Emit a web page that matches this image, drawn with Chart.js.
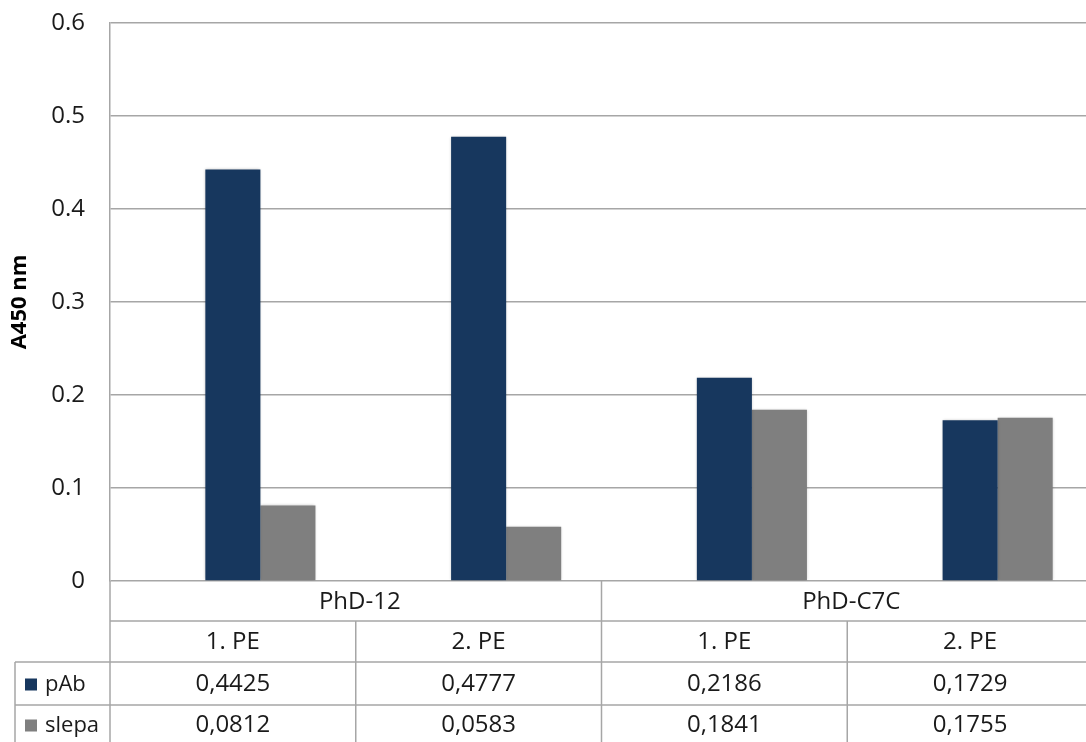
<!DOCTYPE html>
<html>
<head>
<meta charset="utf-8">
<script src="https://cdn.jsdelivr.net/npm/chart.js@4.4.1/dist/chart.umd.min.js"></script>
<style>
  html, body { margin: 0; padding: 0; background: #ffffff; overflow: hidden; }
  #wrap { width: 1100px; height: 742px; }
</style>
</head>
<body>
<div id="wrap"><canvas id="c" width="1100" height="742"></canvas></div>
<script>
// Categories and groups shown in the data table under the plot
const categories = ['1. PE', '2. PE', '1. PE', '2. PE'];
const groupLabels = ['PhD-12', 'PhD-C7C'];
const groupSpans = [2, 2];

// Absorbance at 450 nm
const pAb   = [0.4425, 0.4777, 0.2186, 0.1729];
const slepa = [0.0812, 0.0583, 0.1841, 0.1755];
// empty leading series (keeps the bar pair off-centre, as in the workbook)
const spacer = [null, null, null, null];

const yTicks = [0, 0.1, 0.2, 0.3, 0.4, 0.5, 0.6];

const NAVY = '#17375e';
const GREY = '#7f7f7f';
const LINE = '#a6a6a6';
const TEXT = '#1a1a1a';
const FONT = '"Open Sans", "DejaVu Sans", sans-serif';

const fmt = v => v.toFixed(4).replace('.', ',');

const series = [
  { label: 'pAb', values: pAb, color: NAVY },
  { label: 'slepa', values: slepa, color: GREY }
];

// soft shadow beneath the bars
const barShadow = {
  id: 'barShadow',
  beforeDatasetsDraw(chart) {
    const ctx = chart.ctx;
    ctx.save();
    ctx.shadowColor = 'rgba(0,0,0,0.28)';
    ctx.shadowBlur = 3;
    ctx.shadowOffsetX = 0;
    ctx.shadowOffsetY = 0;
  },
  afterDatasetsDraw(chart) {
    chart.ctx.restore();
  }
};

// data table drawn below the plot area
const dataTable = {
  id: 'dataTable',
  afterDraw(chart) {
    const ctx = chart.ctx;
    const a = chart.chartArea;
    const xs = chart.scales.x;
    const n = categories.length;
    const catW = (a.right - a.left) / n;
    const base = a.bottom;
    const rows = [base, base + 40, base + 81, base + 124, chart.height + 2];
    const legendLeft = 15;

    ctx.save();
    ctx.strokeStyle = LINE;
    ctx.lineWidth = 1.5;
    const line = (x1, y1, x2, y2) => {
      ctx.beginPath(); ctx.moveTo(x1, y1); ctx.lineTo(x2, y2); ctx.stroke();
    };

    // horizontal rules
    line(a.left, rows[1], chart.width, rows[1]);
    line(legendLeft, rows[2], chart.width, rows[2]);
    line(legendLeft, rows[3], chart.width, rows[3]);
    // left edges
    line(a.left, base, a.left, rows[4]);
    line(legendLeft, rows[2], legendLeft, rows[4]);
    // group boundaries and category boundaries
    let idx = 0;
    groupSpans.forEach((span, g) => {
      const x0 = a.left + idx * catW;
      if (g > 0) line(x0, base, x0, rows[4]);
      for (let k = 1; k < span; k++) {
        const xb = x0 + k * catW;
        line(xb, rows[1], xb, rows[4]);
      }
      idx += span;
    });

    ctx.fillStyle = TEXT;
    ctx.textAlign = 'center';
    ctx.textBaseline = 'middle';
    ctx.font = '24px ' + FONT;

    // group row
    idx = 0;
    groupSpans.forEach((span, g) => {
      const x0 = a.left + idx * catW;
      ctx.fillText(groupLabels[g], x0 + span * catW / 2 + 4, (rows[0] + rows[1]) / 2 + 1);
      idx += span;
    });

    // category row
    categories.forEach((c, i) => {
      ctx.fillText(c, xs.getPixelForValue(i), (rows[1] + rows[2]) / 2 + 1);
    });

    // value rows with legend keys
    series.forEach((s, r) => {
      const yMid = (rows[2 + r] + rows[3 + r]) / 2 + 1;
      s.values.forEach((v, i) => {
        ctx.fillText(fmt(v), xs.getPixelForValue(i), yMid);
      });
      ctx.fillStyle = s.color;
      ctx.fillRect(legendLeft + 10, yMid - 6, 12, 12);
      ctx.fillStyle = TEXT;
      ctx.textAlign = 'left';
      ctx.font = '22px ' + FONT;
      ctx.fillText(s.label, legendLeft + 30, yMid);
      ctx.textAlign = 'center';
      ctx.font = '24px ' + FONT;
    });
    ctx.restore();
  }
};

new Chart(document.getElementById('c'), {
  type: 'bar',
  data: {
    labels: categories,
    datasets: [
      { label: '', data: spacer, backgroundColor: 'rgba(0,0,0,0)' },
      { label: 'pAb', data: pAb, backgroundColor: NAVY },
      { label: 'slepa', data: slepa, backgroundColor: GREY }
    ]
  },
  options: {
    responsive: false,
    animation: false,
    events: [],
    layout: { padding: { left: 0, top: 23, right: 7, bottom: 161 } },
    datasets: { bar: { categoryPercentage: 0.672, barPercentage: 1.0, borderWidth: 0 } },
    plugins: { legend: { display: false }, tooltip: { enabled: false } },
    scales: {
      x: { display: false },
      y: {
        min: 0,
        max: 0.6,
        afterFit(scale) {
          scale.width = 110;
          scale.paddingTop = 0;
          scale.paddingBottom = 0;
        },
        afterBuildTicks(scale) { scale.ticks = yTicks.map(v => ({ value: v })); },
        ticks: {
          padding: 25,
          color: TEXT,
          font: { family: FONT, size: 24 },
          callback: v => (v === 0 ? '0' : Number(v).toFixed(1))
        },
        grid: { color: LINE, lineWidth: 1.5, drawTicks: false },
        border: { display: true, color: LINE, width: 1.5 },
        title: {
          display: true,
          text: 'A450 nm',
          color: '#000000',
          font: { family: FONT, size: 22, weight: 'bold' },
          padding: { top: 7, bottom: 0 }
        }
      }
    }
  },
  plugins: [barShadow, dataTable]
});
</script>
</body>
</html>
